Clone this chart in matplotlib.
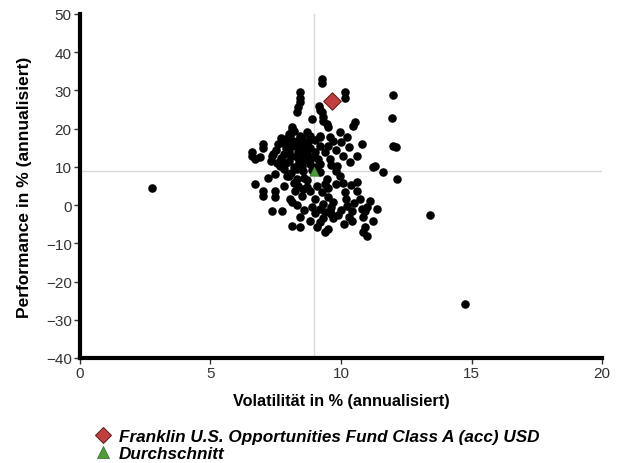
import matplotlib
matplotlib.use("Agg")
import matplotlib.pyplot as plt
from matplotlib.lines import Line2D

plt.rcParams['font.family'] = ['Liberation Sans', 'DejaVu Sans']

# peer funds: volatility (x) and performance (y)
peer_vol = [
    9.27, 9.27, 10.15, 10.15, 8.43, 8.43, 8.43, 8.35, 8.31, 9.16, 9.20, 9.27, 9.31, 8.89, 9.31,
    9.46, 10.54, 10.46, 8.12, 8.12, 9.96, 10.23, 9.58, 9.20, 10.80, 11.99, 11.95, 11.99, 12.10,
    11.30, 11.61, 12.15, 2.76, 13.4, 14.75,
    6.59, 6.59, 6.70, 7.01, 7.01, 6.90, 7.36, 7.55, 7.74, 7.39, 7.90, 8.05, 8.43, 8.62, 9.20,
    9.20, 9.50, 7.47, 7.93, 8.31, 7.20, 6.70, 7.01, 7.01, 7.47, 7.47, 7.36, 7.74, 8.05, 8.12,
    8.24, 8.35, 8.70, 8.81, 8.43, 8.81, 8.12, 8.43, 9.08, 9.20, 9.39, 9.50, 9.20, 9.39, 9.31,
    9.58, 10.08, 10.15, 10.61, 10.23, 10.42, 10.73, 10.80, 10.92, 11.38, 10.42, 10.84, 11.23,
    10.92, 10.84, 11.00, 11.23, 9.96, 9.46, 9.08, 8.54, 9.00, 9.27, 9.39, 9.85, 10.34, 10.61,
    10.08, 9.58, 9.20, 8.43, 7.66,
    7.7, 7.8, 7.9, 7.8, 7.7, 7.9, 7.8, 8.0, 8.1, 8.1, 8.0, 8.1, 8.0, 8.2, 8.1, 8.3, 8.3, 8.35,
    8.3, 8.4, 8.3, 8.5, 8.55, 8.6, 8.5, 8.6, 8.5, 8.55, 8.8, 8.75, 8.8, 8.7, 8.85, 8.8, 8.9,
    9.0, 9.0, 9.1, 9.05, 9.2, 7.5, 7.6, 8.2, 8.7, 7.3, 8.0, 8.6, 9.4, 9.5, 9.7, 9.8, 10.0,
    10.3, 9.6, 9.8,
    8.7, 8.2, 7.8, 8.5, 8.9, 9.0, 8.6, 8.3, 9.5, 9.7, 9.6, 9.9, 9.7, 10.0, 9.5, 9.8, 10.4,
    10.6, 10.2, 10.5, 11.0, 11.1, 10.1, 10.3, 9.3, 9.6,
]
peer_perf = [
    33.0, 31.9, 29.6, 28.0, 29.6, 28.0, 26.9, 25.6, 24.3, 25.9, 24.8, 24.3, 23.0, 22.5, 22.0,
    21.2, 21.7, 20.7, 20.4, 19.6, 19.1, 17.8, 17.8, 17.8, 16.0, 28.8, 22.8, 15.4, 15.3,
    10.2, 8.6, 6.8, 4.4, -2.6, -25.9,
    13.9, 12.8, 12.0, 16.0, 15.0, 12.5, 12.8, 11.0, 10.5, 13.5, 17.3, 18.1, 18.1, 16.0, 18.1,
    15.5, 20.4, 8.1, 7.6, 6.8, 7.0, 5.5, 3.7, 2.4, 3.7, 2.1, -1.6, -1.6, 1.6, 0.8,
    3.7, 5.0, 4.8, 3.7, -3.1, -4.2, -5.5, -5.8, -5.8, -4.5, -7.1, -6.3, -1.0, -1.8, 0.3,
    -1.6, 5.8, 3.4, 3.7, -0.3, -1.6, 1.6, -1.0, -1.6, -1.0, -4.2, -3.1, -4.2,
    -5.8, -7.1, -8.1, 9.9, 7.6, 6.8, 5.0, 4.2, 1.6, 3.4, 5.5, 10.2, 11.3, 12.8,
    12.8, 12.0, 10.7, 10.2, 10.2,
    17.5, 16.2, 15.0, 13.5, 12.2, 11.0, 9.5, 18.5, 17.0, 15.5, 14.2, 12.8, 11.5, 10.0, 8.5,
    16.8, 15.2, 13.8, 12.5, 11.2, 9.5, 17.5, 16.0, 14.5, 13.0, 11.8, 10.3, 8.8, 18.0, 16.5,
    15.0, 13.5, 12.2, 10.8, 9.3, 17.0, 14.0, 12.0, 10.0, 8.6, 14.5, 16.0, 19.5, 19.2, 11.5,
    7.5, 7.0, 13.8, 15.5, 16.8, 14.5, 16.5, 15.2, 10.5, 9.0,
    6.5, 5.8, 5.0, 2.5, -0.5, -2.0, -1.2, 0.0, 2.0, 0.8, -0.5, -2.5, -3.5, -1.2, 4.5, 5.5,
    5.2, 6.0, 1.6, 0.5, -0.4, 1.2, -5.0, -3.0, -3.4, -2.2,
]

fund_name = "Franklin U.S. Opportunities Fund Class A (acc) USD"
fund_vol = 9.65
fund_perf = 27.2

avg_name = "Durchschnitt"
avg_vol = 8.97
avg_perf = 8.9

fund_color = "#c04040"
avg_color = "#4e9a3c"

fig = plt.figure(figsize=(6.23, 4.64), dpi=100)
ax = fig.add_axes([0.1284, 0.2263, 0.8379, 0.7414])

ax.axvline(avg_vol, color="#d8d8d8", lw=1, zorder=1)
ax.axhline(avg_perf, color="#d8d8d8", lw=1, zorder=1)

ax.scatter(peer_vol, peer_perf, s=38, color="black", linewidths=0, zorder=2)
ax.scatter([avg_vol], [avg_perf], marker="^", s=45, color=avg_color,
           edgecolors="#2f6a25", linewidths=0.5, zorder=3)
ax.scatter([fund_vol], [fund_perf], marker="D", s=80, color=fund_color,
           edgecolors="#5a1a1a", linewidths=0.7, zorder=4)

ax.set_xlim(0, 20)
ax.set_ylim(-40, 50)
ax.set_xticks(range(0, 21, 5))
ax.set_yticks(range(-40, 51, 10))
ax.set_yticklabels([str(v).replace("-", "\u2212") for v in range(-40, 51, 10)])

for s in ["top", "right"]:
    ax.spines[s].set_visible(False)
for s in ["left", "bottom"]:
    ax.spines[s].set_linewidth(3)
ax.tick_params(direction="out", length=4, width=1, labelsize=11, colors="#333333", pad=2)

ax.set_xlabel("Volatilität in % (annualisiert)", fontsize=11.7, fontweight="bold", labelpad=9)
ax.set_ylabel("Performance in % (annualisiert)", fontsize=12.5, fontweight="bold", labelpad=10)

handles = [
    Line2D([], [], marker="D", ls="", markersize=8, markerfacecolor=fund_color,
           markeredgecolor="#5a1a1a", markeredgewidth=0.7),
    Line2D([], [], marker="^", ls="", markersize=9, markerfacecolor=avg_color,
           markeredgecolor="#2f6a25", markeredgewidth=0.5),
]
leg = fig.legend(handles, [fund_name, avg_name], loc="upper left",
                 bbox_to_anchor=(0.14, 0.087), frameon=False, handlelength=1,
                 handletextpad=0.45, labelspacing=0.1, borderaxespad=0,
                 prop={"size": 12.3, "weight": "bold", "style": "italic"})

fig.savefig("out.png", dpi=100)
